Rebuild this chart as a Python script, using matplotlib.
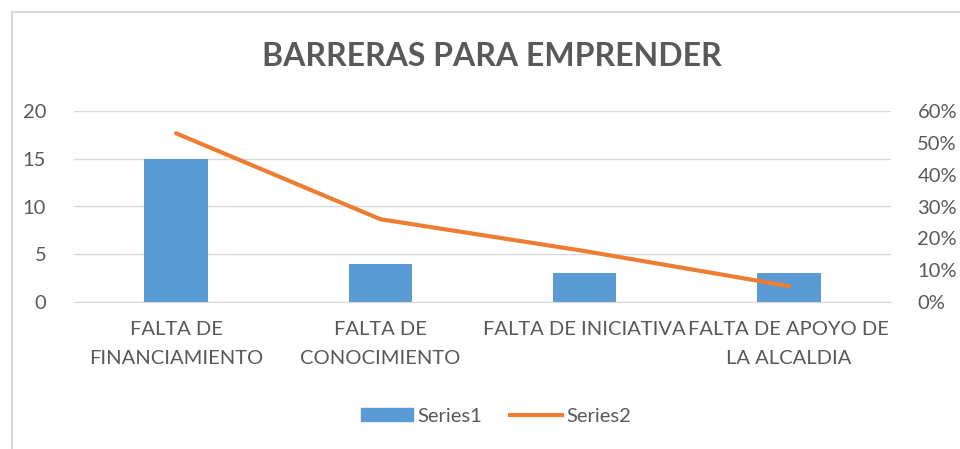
import numpy as np
import matplotlib.pyplot as plt
from matplotlib.patches import Rectangle
from matplotlib.lines import Line2D
from matplotlib.ticker import PercentFormatter

categories = ['FALTA DE\nFINANCIAMIENTO', 'FALTA DE\nCONOCIMIENTO',
              'FALTA DE INICIATIVA', 'FALTA DE APOYO DE\nLA ALCALDIA']
series1 = [15, 4, 3, 3]
series2 = [0.53, 0.26, 0.16, 0.05]

BLUE = '#5B9BD5'
ORANGE = '#ED7D31'
GREY = '#595959'
GRID = '#D9D9D9'

plt.rcParams['font.family'] = ['Lato', 'DejaVu Sans']

fig = plt.figure(figsize=(9.6, 4.49), dpi=100)
fig.patches.append(Rectangle((12 / 960, -0.1), 1.2, 1.1 - 12 / 449,
                             transform=fig.transFigure, fill=False,
                             edgecolor=GRID, linewidth=1.5))

ax = fig.add_axes([74 / 960, 1 - 302 / 449, (891 - 74) / 960, (302 - 111) / 449])
x = np.arange(len(categories))
ax.bar(x, series1, width=0.31, color=BLUE, zorder=2)
ax.set_xlim(-0.5, len(categories) - 0.5)
ax.set_ylim(0, 20)
ax.set_yticks([0, 5, 10, 15, 20])
ax.yaxis.grid(True, color=GRID, linewidth=1)
ax.set_axisbelow(True)
for s in ax.spines.values():
    s.set_visible(False)
ax.spines['bottom'].set_visible(True)
ax.spines['bottom'].set_color(GRID)
ax.tick_params(length=0, colors=GREY, labelsize=14.5)
ax.tick_params(axis='y', pad=20)
ax.tick_params(axis='x', pad=14)
ax.set_xticks(x)
ax.set_xticklabels(categories, linespacing=1.85)

ax2 = ax.twinx()
ax2.plot(x, series2, color=ORANGE, linewidth=3, solid_capstyle='round', zorder=3)
ax2.set_ylim(0, 0.6)
ax2.set_yticks(np.arange(0, 0.61, 0.1))
ax2.yaxis.set_major_formatter(PercentFormatter(1.0, decimals=0))
for s in ax2.spines.values():
    s.set_visible(False)
ax2.tick_params(length=0, colors=GREY, labelsize=14.5, pad=19)

fig.text(492 / 960, 1 - 57 / 449, 'BARRERAS PARA EMPRENDER', ha='center', va='center',
         fontsize=23, fontweight='bold', color=GREY)

handles = [Rectangle((0, 0), 1, 1, color=BLUE),
           Line2D([0], [0], color=ORANGE, linewidth=3)]
fig.legend(handles, ['Series1', 'Series2'], loc='center', bbox_to_anchor=(496 / 960, 1 - 416 / 449),
           ncol=2, frameon=False, fontsize=14.5, labelcolor=GREY, handlelength=2.6,
           handleheight=0.6, handletextpad=0.2, columnspacing=1.4)

fig.savefig('out.png', dpi=100)
